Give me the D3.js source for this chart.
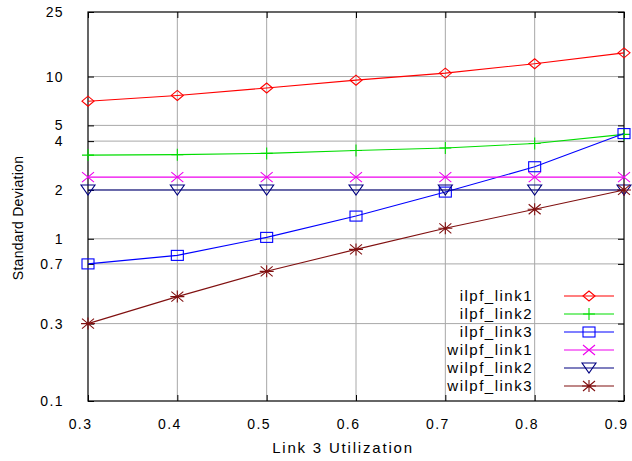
<!DOCTYPE html>
<html>
<head>
<meta charset="utf-8">
<script src="https://cdn.jsdelivr.net/npm/d3@7"></script>
<style>
  body { margin: 0; background: #fff; }
  svg { display: block; }
  text { font-family: "Liberation Sans", Arial, sans-serif; fill: #000; }
</style>
</head>
<body>
<svg id="chart" width="632" height="461"></svg>
<script>
// utilisation values on the x axis
const utilization = [0.3, 0.4, 0.5, 0.6, 0.7, 0.8, 0.9];

// standard deviation per series
const ilpfLink1 = [7.05, 7.65, 8.5, 9.5, 10.5, 12.0, 14.0];
const ilpfLink2 = [3.28, 3.3, 3.36, 3.5, 3.63, 3.87, 4.4];
const ilpfLink3 = [0.7, 0.79, 1.02, 1.38, 1.94, 2.78, 4.45];
const wilpfLink1 = [2.4, 2.4, 2.4, 2.4, 2.4, 2.4, 2.4];
const wilpfLink2 = [2.0, 2.0, 2.0, 2.0, 2.0, 2.0, 2.0];
const wilpfLink3 = [0.3, 0.44, 0.63, 0.86, 1.16, 1.52, 2.0];

const seriesNames = ["ilpf_link1", "ilpf_link2", "ilpf_link3", "wilpf_link1", "wilpf_link2", "wilpf_link3"];
const xTicks = [0.3, 0.4, 0.5, 0.6, 0.7, 0.8, 0.9];
const yTicks = [0.1, 0.3, 0.7, 1, 2, 4, 5, 10, 25];

const styles = [
  { color: "#ff0000", marker: "diamond" },
  { color: "#00dd00", marker: "plus" },
  { color: "#0000ff", marker: "square" },
  { color: "#ee00ee", marker: "cross" },
  { color: "#000080", marker: "tridown" },
  { color: "#801010", marker: "star" }
];
const allValues = [ilpfLink1, ilpfLink2, ilpfLink3, wilpfLink1, wilpfLink2, wilpfLink3];

const svg = d3.select("#chart");
const L = 88, R = 624, T = 12, B = 401;

const x = d3.scaleLinear().domain([0.3, 0.9]).range([L, R]);
const y = d3.scaleLog().domain([0.1, 25]).range([B, T]);

// grid
const grid = svg.append("g").attr("stroke", "#a8a8a8").attr("stroke-width", 1);
xTicks.slice(1, -1).forEach(t => {
  grid.append("line").attr("x1", x(t)).attr("x2", x(t)).attr("y1", T).attr("y2", B);
});
yTicks.slice(1, -1).forEach(t => {
  grid.append("line").attr("x1", L).attr("x2", R).attr("y1", y(t)).attr("y2", y(t));
});

// axes using d3 axis generators (ticks inward, labels separate)
const tickLen = 6;
const axL = svg.append("g").attr("transform", `translate(${L},0)`)
  .call(d3.axisLeft(y).tickValues(yTicks).tickSize(-tickLen).tickFormat(d => String(d)).tickPadding(24));
const axR = svg.append("g").attr("transform", `translate(${R},0)`)
  .call(d3.axisRight(y).tickValues(yTicks).tickSize(-tickLen).tickFormat(""));
const axB = svg.append("g").attr("transform", `translate(0,${B})`)
  .call(d3.axisBottom(x).tickValues(xTicks).tickSize(-tickLen).tickFormat(d3.format(".1f")).tickPadding(18));
const axT = svg.append("g").attr("transform", `translate(0,${T})`)
  .call(d3.axisTop(x).tickValues(xTicks).tickSize(-tickLen).tickFormat(""));

[axL, axR, axB, axT].forEach(a => {
  a.select(".domain").remove();
  a.selectAll(".tick line").attr("stroke", "#000");
  a.selectAll("text").attr("font-size", 14).attr("letter-spacing", "1.4px")
    .attr("font-family", "'Liberation Sans', Arial, sans-serif");
});
axB.selectAll("text").attr("dx", -8);

// frame
svg.append("rect").attr("x", L).attr("y", T).attr("width", R - L).attr("height", B - T)
  .attr("fill", "none").attr("stroke", "#000").attr("stroke-width", 1.2);

// axis titles
svg.append("text").attr("x", 343).attr("y", 453).attr("text-anchor", "middle")
  .attr("font-size", 15).attr("letter-spacing", "1.8px").text("Link 3 Utilization");
svg.append("text").attr("transform", "translate(23,218) rotate(-90)").attr("text-anchor", "middle")
  .attr("font-size", 14).attr("letter-spacing", "0.3px").text("Standard Deviation");

function drawMarker(g, kind, cx, cy, color) {
  const m = g.append("g").attr("transform", `translate(${cx},${cy})`)
    .attr("fill", "none").attr("stroke", color).attr("stroke-width", 1.1);
  if (kind === "diamond") m.append("path").attr("d", "M-6,0L0,-5L6,0L0,5Z");
  if (kind === "plus") m.append("path").attr("d", "M-6,0H6M0,-6V6");
  if (kind === "square") m.append("rect").attr("x", -6).attr("y", -5).attr("width", 12).attr("height", 10);
  if (kind === "cross") m.append("path").attr("d", "M-6,-5L6,5M-6,5L6,-5");
  if (kind === "tridown") m.append("path").attr("d", "M-7,-5H7L0,5Z");
  if (kind === "star") m.append("path").attr("d", "M-6,-5L6,5M-6,5L6,-5M-7,0H7M0,-6V6");
}

const line = d3.line().x((d, i) => x(utilization[i])).y(d => y(d));

allValues.forEach((vals, s) => {
  const st = styles[s];
  svg.append("path").datum(vals).attr("d", line)
    .attr("fill", "none").attr("stroke", st.color).attr("stroke-width", 1.1);
  const mg = svg.append("g");
  vals.forEach((v, i) => drawMarker(mg, st.marker, x(utilization[i]), y(v), st.color));
});

// legend
const legTop = 296, legStep = 18;
seriesNames.forEach((name, s) => {
  const yy = legTop + s * legStep;
  svg.append("text").attr("x", 533).attr("y", yy + 5).attr("text-anchor", "end")
    .attr("font-size", 15).attr("letter-spacing", "1.5px").text(name);
  svg.append("line").attr("x1", 564).attr("x2", 614).attr("y1", yy).attr("y2", yy)
    .attr("stroke", styles[s].color).attr("stroke-width", 1.1);
  drawMarker(svg, styles[s].marker, 589, yy, styles[s].color);
});
</script>
</body>
</html>
